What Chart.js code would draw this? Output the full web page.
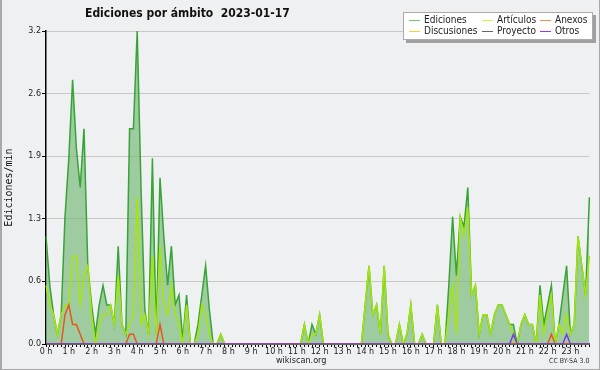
<!DOCTYPE html>
<html>
<head>
<meta charset="utf-8">
<script src="https://cdn.jsdelivr.net/npm/chart.js@4.4.1/dist/chart.umd.min.js"></script>
<style>
  body { margin: 0; background: #fff; }
  #frame { position: absolute; left: 0; top: 0; width: 600px; height: 370px; box-sizing: border-box;
           background: #eff0f1; border: 1px solid #a8a8a8; border-top: none; border-left-width: 2px; }
  #wrap { position: absolute; left: 0; top: 0; width: 600px; height: 370px; }
  .txt { position: absolute; font-family: "DejaVu Sans Condensed", "DejaVu Sans", sans-serif; color: #111; white-space: nowrap; }
  #title { left: 85px; top: 6px; font-size: 12px; font-weight: bold; }
  #legend { position: absolute; left: 403px; top: 12px; width: 188px; height: 26px; background: #fff;
            border: 1px solid #aaa; box-shadow: 3px 3px 0 #a0a0a0; }
  .item { position: absolute; font-family: "DejaVu Sans Condensed", "DejaVu Sans", sans-serif; font-size: 10px; color: #222; line-height: 10px; }
  .item i { position: absolute; left: -15px; top: 5px; width: 11px; height: 1px; }
  #site { left: 276px; top: 355px; font-size: 9px; color: #222; }
  #lic { left: 549px; top: 357px; font-size: 7px; color: #333; }
</style>
</head>
<body>
<div id="frame"></div>
<div id="wrap"><canvas id="chart" width="600" height="370"></canvas></div>
<div class="txt" id="title">Ediciones por ámbito&nbsp;&nbsp;2023-01-17</div>
<div id="legend"></div>
<div class="txt" id="site">wikiscan.org</div>
<div class="txt" id="lic">CC BY-SA 3.0</div>
<script>
// hour tick labels (one data point every 10 minutes, 6 per hour)
const hourLabels = ['0 h','1 h','2 h','3 h','4 h','5 h','6 h','7 h','8 h','9 h','10 h','11 h',
  '12 h','13 h','14 h','15 h','16 h','17 h','18 h','19 h','20 h','21 h','22 h','23 h'];
const yTicks = [0, 0.64, 1.28, 1.92, 2.56, 3.2];

// edits per minute, 10-minute steps
const ediciones = [
  1.1, 0.6, 0.3, 0.1, 0.3, 1.3, 1.9, 2.7, 2.0, 1.6, 2.2, 0.8,
  0.4, 0.1, 0.4, 0.6, 0.4, 0.4, 0.2, 1.0, 0.2, 0.1, 2.2, 2.2,
  3.2, 1.6, 0.35, 0.1, 1.9, 0.1, 1.7, 1.1, 0.6, 1.0, 0.4, 0.5,
  0.04, 0.5, 0, 0, 0.2, 0.5, 0.8, 0.35, 0, 0, 0.1, 0,
  0, 0, 0, 0, 0, 0, 0, 0, 0, 0, 0, 0,
  0, 0, 0, 0, 0, 0, 0, 0, 0.2, 0, 0.2, 0.1,
  0.3, 0, 0, 0, 0, 0, 0, 0, 0, 0, 0, 0,
  0.4, 0.8, 0.3, 0.4, 0.1, 0.8, 0.1, 0, 0, 0.2, 0, 0.1,
  0.4, 0, 0, 0.1, 0, 0, 0, 0.4, 0, 0, 0.6, 1.3,
  0.7, 1.3, 1.2, 1.6, 0.5, 0.6, 0.1, 0.3, 0.3, 0.1, 0.3, 0.4,
  0.4, 0.3, 0.2, 0.2, 0, 0.2, 0.3, 0.2, 0.2, 0, 0.6, 0.2,
  0.4, 0.6, 0, 0.2, 0.5, 0.8, 0.1, 0.2, 1.1, 0.8, 0.5, 1.5
];
const articulos = [
  0.6, 0.4, 0.3, 0.1, 0.3, 0.4, 0.4, 0.9, 0.9, 0.4, 0.7, 0.8,
  0.3, 0, 0.2, 0.3, 0.3, 0.4, 0.2, 0.7, 0.2, 0.1, 0.2, 0.3,
  1.5, 0.2, 0.3, 0.1, 0.9, 0.1, 1.0, 0.4, 0.3, 0.6, 0.3, 0.2,
  0, 0.4, 0, 0, 0.1, 0.4, 0.3, 0.1, 0, 0, 0.1, 0,
  0, 0, 0, 0, 0, 0, 0, 0, 0, 0, 0, 0,
  0, 0, 0, 0, 0, 0, 0, 0, 0.2, 0, 0.1, 0.1,
  0.3, 0, 0, 0, 0, 0, 0, 0, 0, 0, 0, 0,
  0.4, 0.8, 0.3, 0.4, 0.1, 0.8, 0.1, 0, 0, 0.2, 0, 0.1,
  0.4, 0, 0, 0.1, 0, 0, 0, 0.4, 0, 0, 0.3, 0.6,
  0.1, 1.3, 1.1, 1.4, 0.5, 0.6, 0.1, 0.3, 0.3, 0.1, 0.3, 0.4,
  0.4, 0.3, 0.2, 0.1, 0, 0.2, 0.3, 0.2, 0.2, 0, 0.5, 0.1,
  0.3, 0.5, 0, 0.2, 0.1, 0.3, 0.1, 0.2, 1.1, 0.8, 0.5, 0.9
];
const anexos = [
  0, 0, 0, 0, 0, 0.3, 0.4, 0.2, 0.2, 0.1, 0, 0,
  0, 0, 0, 0, 0, 0, 0, 0, 0, 0, 0.1, 0.1,
  0, 0, 0, 0, 0, 0, 0.2, 0, 0, 0, 0, 0,
  0, 0, 0, 0, 0, 0, 0, 0, 0, 0, 0, 0,
  0, 0, 0, 0, 0, 0, 0, 0, 0, 0, 0, 0,
  0, 0, 0, 0, 0, 0, 0, 0, 0, 0, 0, 0,
  0, 0, 0, 0, 0, 0, 0, 0, 0, 0, 0, 0,
  0, 0, 0, 0, 0, 0, 0, 0, 0, 0, 0, 0,
  0, 0, 0, 0, 0, 0, 0, 0, 0, 0, 0, 0,
  0, 0, 0, 0, 0, 0, 0, 0, 0, 0, 0, 0,
  0, 0, 0, 0, 0, 0, 0, 0, 0, 0, 0, 0,
  0, 0.1, 0, 0, 0, 0, 0, 0, 0, 0, 0, 0
];
const otros = [
  0, 0, 0, 0, 0, 0, 0, 0, 0, 0, 0, 0,
  0, 0, 0, 0, 0, 0, 0, 0, 0, 0, 0, 0,
  0, 0, 0, 0, 0, 0, 0, 0, 0, 0, 0, 0,
  0, 0, 0, 0, 0, 0, 0, 0, 0, 0, 0, 0,
  0, 0, 0, 0, 0, 0, 0, 0, 0, 0, 0, 0,
  0, 0, 0, 0, 0, 0, 0, 0, 0, 0, 0, 0,
  0, 0, 0, 0, 0, 0, 0, 0, 0, 0, 0, 0,
  0, 0, 0, 0, 0, 0, 0, 0, 0, 0, 0, 0,
  0, 0, 0, 0, 0, 0, 0, 0, 0, 0, 0, 0,
  0, 0, 0, 0, 0, 0, 0, 0, 0, 0, 0, 0,
  0, 0, 0, 0.1, 0, 0, 0, 0, 0, 0, 0, 0,
  0, 0, 0, 0, 0, 0.1, 0, 0, 0, 0, 0, 0
];
const discusiones = new Array(144).fill(0);
const proyecto = new Array(144).fill(0);

// x categories: every 10 min, label only on the hour
const labels = ediciones.map((v, i) => (i % 6 === 0 ? hourLabels[i / 6] : ''));

// legend (built as html, 3 columns x 2 rows like the original)
const legendItems = [
  { name: 'Ediciones', color: '#6c6', x: 20, y: 2 },
  { name: 'Discusiones', color: '#fc3', x: 20, y: 13 },
  { name: 'Artículos', color: '#cf3', x: 93, y: 2 },
  { name: 'Proyecto', color: '#666', x: 93, y: 13 },
  { name: 'Anexos', color: '#f84', x: 151, y: 2 },
  { name: 'Otros', color: '#93f', x: 151, y: 13 }
];
const leg = document.getElementById('legend');
legendItems.forEach(it => {
  const d = document.createElement('div');
  d.className = 'item';
  d.style.left = it.x + 'px';
  d.style.top = it.y + 'px';
  d.innerHTML = `<i style="background:${it.color}"></i>${it.name}`;
  leg.appendChild(d);
});

const line = (label, data, color, order, extra) => Object.assign({
  label, data, order,
  borderColor: color,
  borderWidth: 1.5,
  pointRadius: 0,
  tension: 0,
  fill: false
}, extra || {});

const ctx = document.getElementById('chart').getContext('2d');
new Chart(ctx, {
  type: 'line',
  data: {
    labels: labels,
    datasets: [
      line('Ediciones', ediciones, '#36a436', 6, { fill: 'origin', backgroundColor: 'rgba(110,180,110,0.62)' }),
      line('Discusiones', discusiones, '#f0c020', 5),
      line('Proyecto', proyecto, '#555', 4),
      line('Artículos', articulos, '#a4e60c', 3),
      line('Anexos', anexos, '#e8561a', 2),
      line('Otros', otros, '#7a38e0', 1)
    ]
  },
  options: {
    responsive: false,
    animation: false,
    layout: { padding: { left: 0, top: 31, right: 10.6, bottom: 0 } },
    plugins: { legend: { display: false }, tooltip: { enabled: false } },
    scales: {
      x: {
        type: 'category',
        offset: false,
        z: 1,
        afterFit: s => { s.height = 26; },
        border: { color: '#000', width: 1.5 },
        grid: { drawOnChartArea: false, drawTicks: true, tickLength: 3, color: '#000' },
        ticks: {
          autoSkip: false, maxRotation: 0, minRotation: 0, padding: 0,
          color: '#222', font: { family: 'DejaVu Sans', size: 8 }
        }
      },
      y: {
        min: 0,
        max: 3.2,
        afterFit: s => { s.width = 46; },
        afterBuildTicks: s => { s.ticks = yTicks.map(v => ({ value: v })); },
        border: { color: '#000', width: 1.5 },
        grid: { color: '#c8c8c8', tickColor: '#000', tickLength: 4, lineWidth: 1 },
        ticks: {
          padding: 1, color: '#222', font: { family: 'DejaVu Sans', size: 8 },
          callback: v => v.toFixed(1)
        },
        title: {
          display: true, text: 'Ediciones/min', color: '#111',
          font: { family: 'DejaVu Sans Mono', size: 10 }, padding: { top: 3, bottom: 0 }
        }
      }
    }
  }
});
</script>
</body>
</html>
